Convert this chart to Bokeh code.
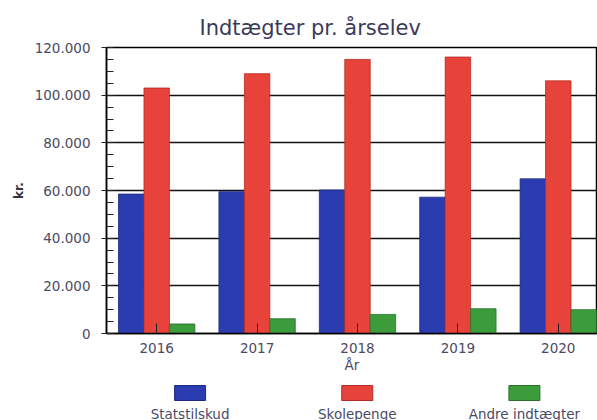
from bokeh.plotting import figure
from bokeh.models import (Range1d, FixedTicker, SingleIntervalTicker, CustomJSTickFormatter,
                          ColumnDataSource, Column)
from bokeh.core.properties import value
from bokeh.transform import dodge
from bokeh.embed import file_html
from bokeh.resources import INLINE

years = ["2016", "2017", "2018", "2019", "2020"]
series = ["Statstilskud", "Skolepenge", "Andre indtægter"]
statstilskud = [58500, 59500, 60200, 57200, 64900]
skolepenge = [103000, 109000, 115000, 116000, 106000]
andre = [4000, 6200, 8000, 10400, 10000]
colors = ["#2b3cb0", "#e8433b", "#3c9c3c"]
edges = ["#1e2a80", "#b52a25", "#2a702a"]

FONT = "DejaVu Sans"
TXT = "#4a4a66"

idx = list(range(len(years)))
src = ColumnDataSource(dict(x=idx, s=statstilskud, k=skolepenge, a=andre))

p = figure(width=597, height=380, output_backend="svg", toolbar_location=None,
           x_range=Range1d(-0.5, -0.5 + 492 / 100.6), y_range=Range1d(0, 120000),
           min_border_left=105, min_border_right=0, min_border_top=47, min_border_bottom=47)
p.background_fill_color = "white"
p.border_fill_color = "white"
p.outline_line_color = "black"
p.outline_line_width = 1.5

w = 0.2535
for col, off, c, e in zip(["s", "k", "a"], [-w, 0, w], colors, edges):
    p.vbar(x=dodge("x", off), top=col, width=w, bottom=0, source=src,
           fill_color=c, line_color=e, line_width=0.8)

p.title.text = "Indtægter pr. årselev"
p.title.align = "left"
p.title.offset = 93
p.title.standoff = 16
p.title.text_font = FONT
p.title.text_font_size = "21px"
p.title.text_font_style = "normal"
p.title.text_color = "#3a3a58"

# x axis
p.xaxis.ticker = FixedTicker(ticks=idx)
p.xaxis.major_label_overrides = {i: y for i, y in zip(idx, years)}
p.xaxis.major_tick_in = 10
p.xaxis.major_tick_out = 0
p.xaxis.major_label_standoff = 9
p.xaxis.axis_label = "År"
p.xaxis.axis_label_standoff = 1
p.xgrid.grid_line_color = None

# y axis
p.yaxis.ticker = SingleIntervalTicker(interval=20000, num_minor_ticks=4)
p.yaxis.formatter = CustomJSTickFormatter(
    code="return Math.round(tick).toString().replace(/\\B(?=(\\d{3})+(?!\\d))/g, '.');")
p.yaxis.major_tick_in = 0
p.yaxis.major_tick_out = 5
p.yaxis.minor_tick_in = 7
p.yaxis.minor_tick_out = 0
p.yaxis.major_label_standoff = 11
p.yaxis.axis_label = "kr."
p.yaxis.axis_label_standoff = 6
p.ygrid.grid_line_color = "#111111"
p.ygrid.grid_line_width = 1.5

for ax in (p.xaxis, p.yaxis):
    ax.axis_line_color = "black"
    ax.axis_line_width = 1.5
    ax.major_tick_line_color = "#222222"
    ax.major_label_text_font = FONT
    ax.major_label_text_font_size = "13.5px"
    ax.major_label_text_color = TXT
    ax.axis_label_text_font = FONT
    ax.axis_label_text_font_size = "13.5px"
    ax.axis_label_text_font_style = "normal"
    ax.axis_label_text_color = TXT
p.xaxis.minor_tick_line_color = None
p.yaxis.minor_tick_line_color = "#222222"
p.yaxis.axis_label_text_font_style = "bold"
p.yaxis.axis_label_text_font_size = "12px"
p.yaxis.axis_label_text_color = "#333344"

# legend (boxes above labels)
leg = figure(width=597, height=40, output_backend="svg", toolbar_location=None,
             x_range=Range1d(-0.5, -0.5 + 492 / 167.5), y_range=Range1d(0, 40),
             min_border_left=106, min_border_right=0, min_border_top=0, min_border_bottom=0)
leg.axis.visible = False
leg.grid.visible = False
leg.outline_line_color = None
leg.background_fill_color = "white"
leg.border_fill_color = "white"
lsrc = ColumnDataSource(dict(x=list(range(len(series))), name=series, c=colors, e=edges))
leg.rect(x="x", y=27.5, width=31, height=15, width_units="screen", height_units="screen",
         fill_color="c", line_color="e", line_width=1, source=lsrc)
leg.text(x="x", y=15, text="name", text_align="center", text_baseline="top",
         text_font=value(FONT), text_font_size="13.5px", text_color=TXT, source=lsrc)

layout = Column(p, leg, spacing=0)
open("out.html", "w").write(file_html(layout, INLINE))
